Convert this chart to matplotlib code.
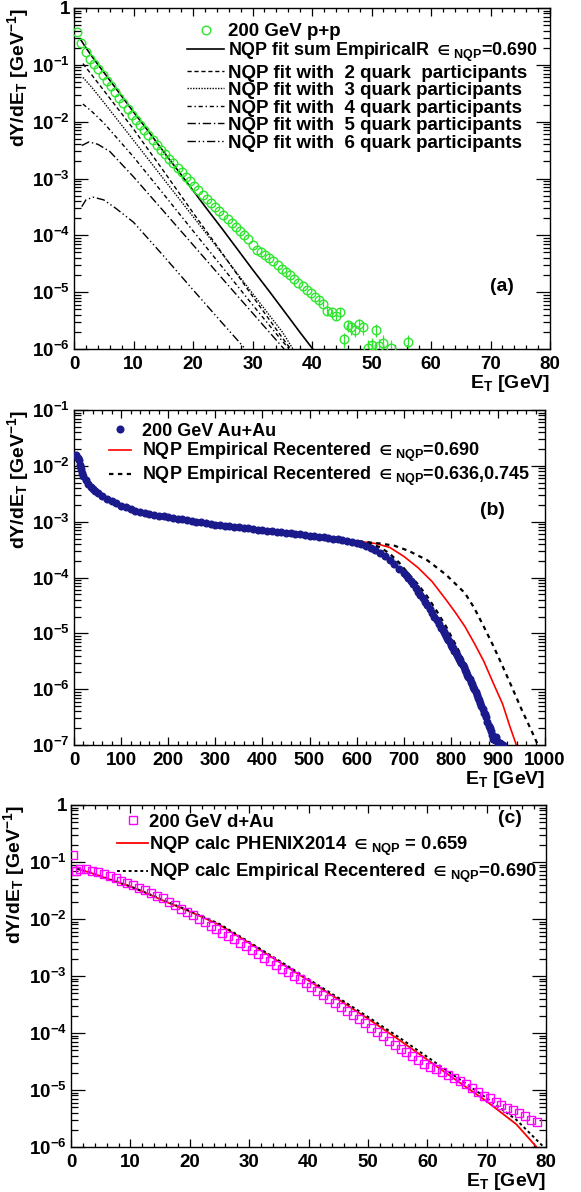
import numpy as np
import matplotlib
matplotlib.use('Agg')
import matplotlib.pyplot as plt
from matplotlib.ticker import LogLocator, MultipleLocator, FixedLocator, FixedFormatter, NullFormatter

plt.rcParams['font.family'] = ['Liberation Sans', 'DejaVu Sans']
plt.rcParams['font.weight'] = 'bold'
plt.rcParams['axes.labelweight'] = 'bold'
plt.rcParams['mathtext.fontset'] = 'custom'
plt.rcParams['mathtext.rm'] = 'Liberation Sans:bold'
plt.rcParams['mathtext.bf'] = 'Liberation Sans:bold'
plt.rcParams['mathtext.it'] = 'Liberation Sans:bold'
plt.rcParams['mathtext.sf'] = 'Liberation Sans:bold'
plt.rcParams['mathtext.default'] = 'bf'
plt.rcParams['mathtext.fallback'] = 'stixsans'

# ---------------- panel (a): 200 GeV p+p ----------------
pp_et = [0.5, 1.2, 2.0, 2.7, 3.4, 4.1, 4.8, 5.5, 6.2, 6.9, 7.6, 8.3, 9.0, 9.7, 10.4, 11.1,
         11.8, 12.5, 13.2, 13.9, 14.6, 15.3, 16.0, 16.7, 17.4, 18.1, 18.8, 19.5, 20.2, 20.9,
         21.6, 22.3, 23.0, 23.7, 24.4, 25.1, 25.8, 26.5, 27.2, 27.9, 28.6, 29.3, 30.0, 30.7,
         31.4, 32.1, 32.8, 33.5, 34.2, 34.9, 35.6, 36.3, 37.0, 37.7, 38.4, 39.1, 39.8, 40.5,
         41.2, 41.9, 42.6, 43.3, 44.0, 44.7, 45.4, 46.0, 46.6, 47.3, 47.9, 48.5, 49.4, 50.0,
         50.7, 51.3, 51.9, 53.3, 56.1]
pp_y = [0.38, 0.245, 0.17, 0.129, 0.105, 0.083, 0.066, 0.052, 0.042, 0.033, 0.026, 0.021,
        0.0166, 0.0132, 0.0107, 8.7e-3, 7.1e-3, 5.8e-3, 4.7e-3, 3.9e-3, 3.2e-3, 2.7e-3,
        2.24e-3, 1.86e-3, 1.55e-3, 1.29e-3, 1.07e-3, 8.9e-4, 7.4e-4, 6.2e-4, 5.1e-4, 4.4e-4,
        3.7e-4, 3.2e-4, 2.7e-4, 2.3e-4, 1.95e-4, 1.66e-4, 1.41e-4, 1.20e-4, 1.02e-4, 8.7e-5,
        6.8e-5, 5.6e-5, 5.0e-5, 4.5e-5, 4.0e-5, 3.5e-5, 3.0e-5, 2.6e-5, 2.3e-5, 2.0e-5,
        1.74e-5, 1.48e-5, 1.26e-5, 1.10e-5, 9.5e-6, 8.3e-6, 7.2e-6, 6.3e-6, 4.7e-6, 4.4e-6,
        3.8e-6, 4.5e-6, 1.5e-6, 2.6e-6, 2.4e-6, 2.2e-6, 2.8e-6, 2.4e-6, 1.05e-6, 1.17e-6,
        2.2e-6, 1.12e-6, 1.3e-6, 1.05e-6, 1.35e-6]
pp_err = [0] * 58 + [0.8e-6, 0.8e-6, 0.7e-6, 0.7e-6, 0.6e-6, 0.7e-6, 0.45e-6, 0.6e-6,
                     0.6e-6, 0.55e-6, 0.6e-6, 0.6e-6, 0.4e-6, 0.4e-6, 0.55e-6, 0.4e-6,
                     0.45e-6, 0.4e-6, 0.45e-6]

sum_et = [1.2, 2, 3, 4, 5, 6, 8, 10, 12, 14, 16, 18, 20, 22, 25, 28, 30, 33, 36, 38, 40.5]
sum_y = [0.269, 0.200, 0.141, 0.102, 0.0741, 0.0537, 0.0282, 0.0148, 7.94e-3, 4.17e-3,
         2.19e-3, 1.17e-3, 6.17e-4, 3.24e-4, 1.26e-4, 4.79e-5, 2.51e-5, 9.77e-6, 3.72e-6,
         1.95e-6, 8.9e-7]

q2_et = [1.5, 3, 5, 10, 15, 20, 25, 30, 35, 36.4]
q2_y = [0.105, 0.066, 0.0355, 7.4e-3, 1.38e-3, 2.5e-4, 4.7e-5, 8.5e-6, 1.58e-6, 1.0e-6]
q3_et = [1.5, 3, 5, 10, 15, 20, 25, 30, 35, 36.8]
q3_y = [0.060, 0.040, 0.0219, 4.7e-3, 1.0e-3, 2.14e-4, 4.57e-5, 9.5e-6, 2.0e-6, 1.0e-6]
q4_et = [1.5, 3, 5, 10, 15, 20, 25, 30, 35, 36.2]
q4_y = [0.0204, 0.0151, 9.5e-3, 2.4e-3, 5.4e-4, 1.2e-4, 2.7e-5, 6.0e-6, 1.38e-6, 1.0e-6]
q5_et = [1.3, 2.5, 4, 6, 10, 15, 20, 25, 30, 35.3]
q5_y = [3.8e-3, 4.4e-3, 4.0e-3, 3.0e-3, 1.07e-3, 2.7e-4, 6.8e-5, 1.7e-5, 4.3e-6, 1.0e-6]
q6_et = [1.3, 2, 3.2, 5, 7, 10, 15, 20, 25, 28.8]
q6_y = [3.2e-4, 4.2e-4, 4.7e-4, 4.2e-4, 3.0e-4, 1.7e-4, 4.4e-5, 1.1e-5, 2.8e-6, 1.0e-6]

# ---------------- panel (b): 200 GeV Au+Au ----------------
auau_et = [5, 10, 15, 20, 30, 40, 50, 60, 70, 80, 90, 100, 110, 120, 130, 140, 150, 160,
           170, 180, 190, 200, 210, 220, 230, 240, 250, 260, 270, 280, 290, 300, 310, 320,
           330, 340, 350, 360, 370, 380, 390, 400, 410, 420, 430, 440, 450, 460, 470, 480,
           490, 500, 510, 520, 530, 540, 550, 560, 570, 580, 590, 600, 610, 620, 630, 640,
           650, 660, 670, 680, 690, 700, 705, 710, 715, 720, 725, 730, 735, 740, 745, 750,
           755, 760, 765, 770, 775, 780, 785, 790, 795, 800, 805, 810, 815, 820, 825, 830,
           835, 840, 845, 850, 855, 860, 865, 870, 875, 880, 885, 890, 895, 900, 905, 910]
auau_y = [0.0155, 0.0126, 8.9e-3, 6.6e-3, 4.7e-3, 3.8e-3, 3.3e-3, 2.9e-3, 2.57e-3, 2.34e-3,
          2.14e-3, 1.95e-3, 1.82e-3, 1.70e-3, 1.58e-3, 1.51e-3, 1.45e-3, 1.38e-3, 1.33e-3,
          1.29e-3, 1.245e-3, 1.20e-3, 1.16e-3, 1.12e-3, 1.10e-3, 1.06e-3, 1.02e-3, 1.00e-3,
          9.7e-4, 9.4e-4, 9.1e-4, 8.9e-4, 8.7e-4, 8.5e-4, 8.3e-4, 8.1e-4, 7.9e-4, 7.8e-4,
          7.6e-4, 7.4e-4, 7.2e-4, 7.1e-4, 6.9e-4, 6.8e-4, 6.6e-4, 6.5e-4, 6.3e-4, 6.2e-4,
          6.0e-4, 5.9e-4, 5.75e-4, 5.6e-4, 5.5e-4, 5.4e-4, 5.25e-4, 5.1e-4, 5.0e-4, 4.9e-4,
          4.7e-4, 4.5e-4, 4.4e-4, 4.2e-4, 4.0e-4, 3.7e-4, 3.4e-4, 3.1e-4, 2.75e-4, 2.4e-4,
          2.1e-4, 1.74e-4, 1.45e-4, 1.20e-4, 1.10e-4, 1.0e-4, 8.7e-5, 7.6e-5, 6.6e-5, 5.6e-5,
          4.9e-5, 4.3e-5, 3.7e-5, 3.2e-5, 2.7e-5, 2.3e-5, 2.0e-5, 1.7e-5, 1.45e-5, 1.23e-5,
          1.05e-5, 8.9e-6, 7.6e-6, 6.3e-6, 5.4e-6, 4.5e-6, 3.8e-6, 3.2e-6, 2.7e-6, 2.2e-6,
          1.8e-6, 1.5e-6, 1.23e-6, 1.0e-6, 7.9e-7, 6.3e-7, 5.0e-7, 3.8e-7, 3.2e-7, 2.2e-7,
          1.8e-7, 1.26e-7, 1.4e-7, 1.05e-7, 1.1e-7, 1.0e-7]
# additional Au+Au bins between the ones above
auau_et2 = [7.5, 12.5, 17.5, 25, 35, 45, 782.5, 787.5, 792.5, 797.5, 802.5, 807.5, 812.5,
            817.5, 822.5, 827.5, 832.5, 837.5, 842.5, 847.5, 852.5, 857.5, 862.5, 867.5,
            872.5, 877.5, 882.5, 887.5, 892.5, 897.5, 902.5, 907.5]
auau_y2 = [0.0140, 0.0105, 7.6e-3, 5.5e-3, 4.2e-3, 3.5e-3, 1.13e-5, 9.6e-6, 8.2e-6, 6.9e-6,
           5.8e-6, 4.9e-6, 4.1e-6, 3.5e-6, 2.9e-6, 2.45e-6, 2.0e-6, 1.65e-6, 1.35e-6, 1.1e-6,
           8.9e-7, 7.0e-7, 5.6e-7, 4.4e-7, 3.6e-7, 2.6e-7, 2.0e-7, 1.5e-7, 1.3e-7, 1.2e-7,
           1.0e-7, 1.05e-7]

nqp690_et = [5, 8, 12, 20, 30, 50, 75, 100, 150, 200, 300, 400, 500, 600, 640, 670, 700,
             730, 760, 790, 810, 830, 850, 870, 890, 910, 925, 940]
nqp690_y = [0.0145, 0.0117, 8.9e-3, 6.0e-3, 4.4e-3, 3.1e-3, 2.34e-3, 1.86e-3, 1.38e-3,
            1.12e-3, 8.3e-4, 6.8e-4, 5.5e-4, 4.5e-4, 4.07e-4, 3.47e-4, 2.40e-4, 1.51e-4,
            8.5e-5, 3.98e-5, 2.34e-5, 1.32e-5, 6.6e-6, 3.16e-6, 1.29e-6, 5.4e-7, 2.19e-7, 9.5e-8]
nqp745_et = [5, 8, 12, 20, 30, 50, 75, 100, 150, 200, 300, 400, 500, 600, 650, 680, 710,
             750, 790, 830, 850, 870, 890, 910, 930, 950, 970, 985]
nqp745_y = [0.0145, 0.0117, 8.9e-3, 6.0e-3, 4.4e-3, 3.1e-3, 2.34e-3, 1.86e-3, 1.38e-3,
            1.12e-3, 8.3e-4, 6.8e-4, 5.5e-4, 4.5e-4, 4.07e-4, 3.72e-4, 3.02e-4, 2.04e-4,
            1.12e-4, 5.25e-5, 2.82e-5, 1.32e-5, 6.0e-6, 2.57e-6, 1.07e-6, 4.37e-7, 1.9e-7, 1.0e-7]
nqp636_et = [5, 8, 12, 20, 30, 50, 75, 100, 150, 200, 300, 400, 500, 600, 630, 650, 670,
             690, 710, 730, 750, 770, 790, 810, 830, 850, 870, 893]
nqp636_y = [0.0145, 0.0117, 8.9e-3, 6.0e-3, 4.4e-3, 3.1e-3, 2.34e-3, 1.86e-3, 1.38e-3,
            1.12e-3, 8.3e-4, 6.8e-4, 5.5e-4, 4.5e-4, 3.98e-4, 3.47e-4, 2.69e-4, 1.86e-4,
            1.17e-4, 7.6e-5, 4.57e-5, 2.51e-5, 1.32e-5, 6.3e-6, 2.95e-6, 1.20e-6, 4.17e-7, 1.0e-7]

# ---------------- panel (c): 200 GeV d+Au ----------------
dau_et = [0.3, 0.9, 1.5, 2.5, 3.5, 4.5, 5.5, 6.5, 7.5, 8.5, 9.5, 10.5, 11.5, 12.5, 13.5,
          14.5, 15.5, 16.5, 17.5, 18.5, 19.5, 20.5, 21.5, 22.5, 23.5, 24.5, 25.5, 26.5, 27.5,
          28.5, 29.5, 30.5, 31.5, 32.5, 33.5, 34.5, 35.5, 36.5, 37.5, 38.5, 39.5, 40.5, 41.5,
          42.5, 43.5, 44.5, 45.5, 46.5, 47.5, 48.5, 49.5, 50.5, 51.5, 52.5, 53.5, 54.5, 55.5,
          56.5, 57.5, 58.5, 59.5, 60.5, 61.5, 62.5, 63.5, 64.5, 65.5, 66.5, 67.5, 68.5, 69.5,
          70.5, 71.5, 72.5, 73.5, 74.5, 75.5, 76.5, 77.5, 78.5]
dau_y = [0.135, 0.069, 0.0759, 0.0741, 0.0708, 0.0661, 0.0617, 0.0562, 0.0513, 0.0468,
         0.0427, 0.0389, 0.0355, 0.0324, 0.0288, 0.0257, 0.0229, 0.0200, 0.0174, 0.0151,
         0.0132, 0.0115, 0.0100, 8.71e-3, 7.59e-3, 6.61e-3, 5.75e-3, 5.01e-3, 4.37e-3,
         3.80e-3, 3.31e-3, 2.82e-3, 2.45e-3, 2.09e-3, 1.82e-3, 1.58e-3, 1.35e-3, 1.17e-3,
         1.00e-3, 8.71e-4, 7.41e-4, 6.31e-4, 5.37e-4, 4.57e-4, 3.89e-4, 3.31e-4, 2.82e-4,
         2.40e-4, 2.04e-4, 1.74e-4, 1.48e-4, 1.23e-4, 1.05e-4, 8.71e-5, 7.24e-5, 6.17e-5,
         5.25e-5, 4.57e-5, 3.89e-5, 3.31e-5, 2.88e-5, 2.51e-5, 2.29e-5, 2.09e-5, 1.86e-5,
         1.62e-5, 1.45e-5, 1.26e-5, 1.07e-5, 9.12e-6, 7.94e-6, 7.08e-6, 6.17e-6, 5.50e-6,
         4.90e-6, 4.37e-6, 3.89e-6, 3.47e-6, 3.02e-6, 2.75e-6]

phenix_et = [1, 3, 5, 8, 10, 13, 16, 20, 25, 30, 35, 40, 45, 50, 55, 60, 65, 70, 75, 78.4]
phenix_y = [0.0759, 0.0661, 0.0562, 0.0437, 0.0372, 0.0275, 0.0200, 0.0135, 7.9e-3,
            3.8e-3, 1.78e-3, 8.3e-4, 3.9e-4, 1.78e-4, 7.9e-5, 3.4e-5, 1.45e-5, 6.3e-6,
            2.5e-6, 1.0e-6]
emp_et = [1, 3, 5, 8, 10, 13, 16, 20, 25, 30, 35, 40, 45, 50, 55, 60, 65, 70, 75, 79.6]
emp_y = [0.0759, 0.0661, 0.0562, 0.0437, 0.0372, 0.0278, 0.0204, 0.0138, 8.2e-3, 3.95e-3,
         1.87e-3, 8.8e-4, 4.15e-4, 1.92e-4, 8.7e-5, 3.8e-5, 1.65e-5, 7.2e-6, 3.0e-6, 1.0e-6]

# ---------------- figure ----------------
fig = plt.figure(figsize=(5.81, 11.92), dpi=100)
ax_a = fig.add_axes([0.1274, 0.7072, 0.8193, 0.2861])
ax_b = fig.add_axes([0.1274, 0.3750, 0.8107, 0.2810])
ax_c = fig.add_axes([0.1222, 0.0378, 0.8176, 0.2869])

TICK_FS = 13.5


def style(ax, xmax, xmajor, xminor, dec_lo, dec_hi):
    ax.set_yscale('log')
    ax.set_xlim(0, xmax)
    ax.set_ylim(10.0 ** dec_lo, 10.0 ** dec_hi)
    ax.xaxis.set_major_locator(MultipleLocator(xmajor))
    ax.xaxis.set_minor_locator(MultipleLocator(xminor))
    decs = list(range(dec_lo, dec_hi + 1))
    ax.yaxis.set_major_locator(FixedLocator([10.0 ** d for d in decs]))
    labels = ['1' if d == 0 else r'$10^{%d}$' % d for d in decs]
    ax.yaxis.set_major_formatter(FixedFormatter(labels))
    ax.yaxis.set_minor_locator(LogLocator(base=10, subs=np.arange(2, 10), numticks=30))
    ax.yaxis.set_minor_formatter(NullFormatter())
    ax.tick_params(which='both', direction='in', top=True, right=True, width=0.9,
                   labelsize=TICK_FS)
    ax.tick_params(axis='x', which='major', length=6, pad=5)
    ax.tick_params(axis='x', which='minor', length=3)
    ax.tick_params(axis='y', which='major', length=10, pad=3)
    ax.tick_params(axis='y', which='minor', length=5)
    for sp in ax.spines.values():
        sp.set_linewidth(1.0)
    ax.set_xlabel(r'E$_T$ [GeV]', loc='right', fontsize=14, fontweight='bold', labelpad=0)
    ax.set_ylabel(r'dY/dE$_T$ [GeV$^{-1}$]', loc='top', fontsize=14, fontweight='bold',
                  labelpad=1)


GREEN = '#2ee62e'

# ---- (a)
style(ax_a, 80, 10, 2, -6, 0)
ax_a.errorbar(pp_et, pp_y, yerr=pp_err, fmt='none', ecolor=GREEN, elinewidth=0.9,
              capsize=0, zorder=3)
ax_a.plot(pp_et, pp_y, 'o', mfc='none', mec=GREEN, ms=6.2, mew=1.0,
          label='200 GeV p+p', zorder=3)
ax_a.plot(sum_et, sum_y, color='black', lw=1.2,
          label=r'NQP fit sum EmpiricalR $\in_{NQP}$=0.690')
ax_a.plot(q2_et, q2_y, color='black', lw=1.0, ls=(0, (3, 2)),
          label='NQP fit with  2 quark  participants')
ax_a.plot(q3_et, q3_y, color='black', lw=1.0, ls=(0, (1, 1)),
          label='NQP fit with  3 quark participants')
ax_a.plot(q4_et, q4_y, color='black', lw=1.0, ls=(0, (3, 2, 1, 2)),
          label='NQP fit with  4 quark participants')
ax_a.plot(q5_et, q5_y, color='black', lw=1.0, ls=(0, (6, 2, 1, 2)),
          label='NQP fit with  5 quark participants')
ax_a.plot(q6_et, q6_y, color='black', lw=1.0, ls=(0, (6, 2, 1, 2, 1, 2)),
          label='NQP fit with  6 quark participants')
leg_a = ax_a.legend(loc='upper left', bbox_to_anchor=(0.237, 0.955), frameon=False,
                    fontsize=13.5, borderpad=0, borderaxespad=0, labelspacing=0.02,
                    handlelength=2.0, handletextpad=0.2, numpoints=1)
leg_a.get_texts()[1].set_fontsize(12.9)
ax_a.text(72, 1.25e-5, '(a)', fontsize=14, ha='center', va='center')

# ---- (b)
style(ax_b, 1000, 100, 20, -7, -1)
ax_b.plot(auau_et, auau_y, 'o', color='#1a1a8c', ms=5.8, mew=0, label='200 GeV Au+Au',
          zorder=3)
ax_b.plot(auau_et2, auau_y2, 'o', color='#1a1a8c', ms=5.8, mew=0, zorder=3)
ax_b.plot(nqp690_et, nqp690_y, color='#ff0000', lw=1.2,
          label=r'NQP Empirical Recentered $\in_{NQP}$=0.690', zorder=2)
ax_b.plot(nqp745_et, nqp745_y, color='black', lw=1.6, ls=(0, (2, 2)),
          label=r'NQP Empirical Recentered $\in_{NQP}$=0.636,0.745', zorder=2)
ax_b.plot(nqp636_et, nqp636_y, color='black', lw=1.6, ls=(0, (2, 2)), zorder=2)
ax_b.legend(loc='upper left', bbox_to_anchor=(0.074, 0.962), frameon=False, fontsize=13,
            borderpad=0, borderaxespad=0, labelspacing=0.05, handlelength=1.25,
            handletextpad=0.6, numpoints=1)
ax_b.text(889, 1.6e-3, '(b)', fontsize=14, ha='center', va='center')

# ---- (c)
style(ax_c, 80, 10, 2, -6, 0)
ax_c.plot(dau_et, dau_y, 's', mfc='none', mec='#ff00ff', ms=5.5, mew=1.0,
          label='200 GeV d+Au', zorder=3)
ax_c.plot(phenix_et, phenix_y, color='#ff0000', lw=1.3,
          label=r'NQP calc PHENIX2014 $\in_{NQP}$ = 0.659', zorder=2)
ax_c.plot(emp_et, emp_y, color='black', lw=1.4, ls=(0, (1.5, 1.5)),
          label=r'NQP calc Empirical Recentered $\in_{NQP}$=0.690', zorder=2)
ax_c.legend(loc='upper left', bbox_to_anchor=(0.097, 0.975), frameon=False, fontsize=13.3,
            borderpad=0, borderaxespad=0, labelspacing=0.22, handlelength=1.7,
            handletextpad=0.05, numpoints=1)
ax_c.text(74, 0.58, '(c)', fontsize=14, ha='center', va='center')

fig.savefig('out.png', dpi=100)
